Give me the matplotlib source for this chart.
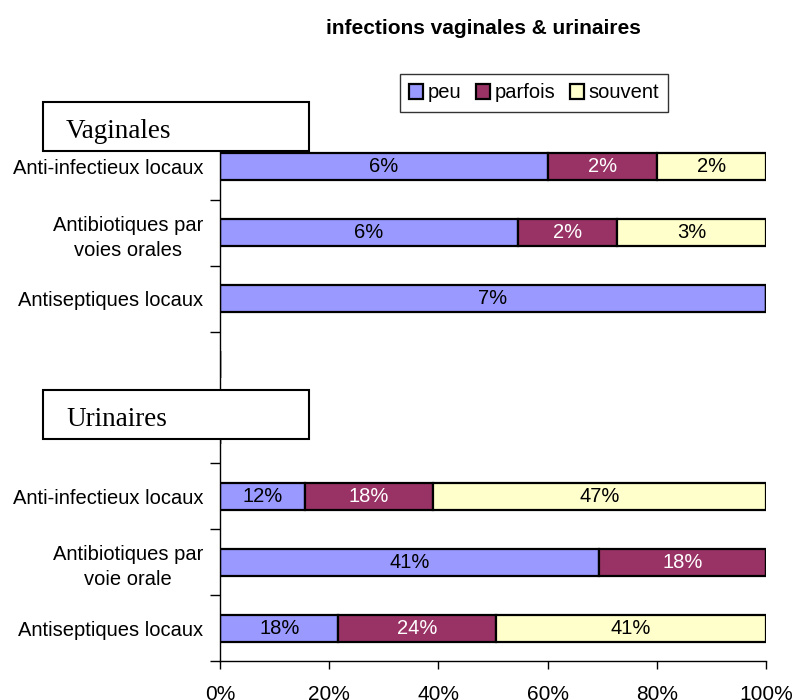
import matplotlib
matplotlib.use("Agg")
import matplotlib.pyplot as plt
import numpy as np
from matplotlib.patches import Rectangle

plt.rcParams['font.family'] = ['Liberation Sans', 'DejaVu Sans']

title = "infections vaginales & urinaires"
categories = ["Anti-infectieux locaux", "Antibiotiques par\nvoies orales", "Antiseptiques locaux",
              "", "",
              "Anti-infectieux locaux", "Antibiotiques par\nvoie orale", "Antiseptiques locaux"]
series_names = ["peu", "parfois", "souvent"]
peu = [6, 6, 7, 0, 0, 12, 41, 18]
parfois = [2, 2, 0, 0, 0, 18, 18, 24]
souvent = [2, 3, 0, 0, 0, 47, 0, 41]
group_labels = ["Vaginales", "Urinaires"]
xtick_labels = ["0%", "20%", "40%", "60%", "80%", "100%"]

colors = ["#9999FF", "#993366", "#FFFFCC"]
text_colors = ["black", "white", "black"]

fig = plt.figure(figsize=(7.94, 7.0), dpi=100)
ax = fig.add_axes([220/794, 39/700, 546/794, 527/700])

data = np.array([peu, parfois, souvent], dtype=float)
totals = data.sum(axis=0)
n = len(categories)
ypos = np.arange(n)
left = np.zeros(n)
for i, name in enumerate(series_names):
    frac = np.divide(data[i], totals, out=np.zeros(n), where=totals > 0)
    ax.barh(ypos, frac, left=left, height=0.41, color=colors[i],
            edgecolor="black", linewidth=1.6, label=name)
    for j in range(n):
        if data[i][j] > 0:
            ax.text(left[j] + frac[j] / 2, ypos[j], f"{int(data[i][j])}%",
                    ha="center", va="center", fontsize=14.5, color=text_colors[i])
    left = left + frac

ax.set_xlim(0, 1)
ax.set_ylim(n - 0.5, -0.5)
ax.set_xticks(np.linspace(0, 1, 6))
ax.set_xticklabels(xtick_labels, fontsize=15)
ax.set_yticks(ypos)
ax.set_yticklabels(categories, fontsize=14.5, multialignment="center", linespacing=1.4)
ax.set_yticks(np.arange(n + 1) - 0.5, minor=True)
ax.tick_params(axis="y", which="major", length=0, pad=12)
ax.tick_params(axis="y", which="minor", length=7, direction="out", width=1)
ax.tick_params(axis="x", length=6, direction="out", width=1, pad=11)
for s in ["top", "right"]:
    ax.spines[s].set_visible(False)
for s in ["left", "bottom"]:
    ax.spines[s].set_linewidth(1)

fig.text(483/794, 1 - 28/700, title, ha="center", va="center",
         fontsize=15, fontweight="bold")

leg = fig.legend(loc="center", bbox_to_anchor=(534/794, 1 - 93/700), ncol=3,
                 fontsize=14.5, frameon=True, fancybox=False, edgecolor="black",
                 handlelength=0.7, handleheight=0.7, handletextpad=0.25,
                 columnspacing=0.7, borderpad=0.45, borderaxespad=0)
leg.get_frame().set_linewidth(1)

# group header boxes
for lbl, (y0, y1) in zip(group_labels, [(102, 151), (390, 439)]):
    rect = Rectangle((43/794, 1 - y1/700), (309 - 43)/794, (y1 - y0)/700,
                     transform=fig.transFigure, facecolor="white",
                     edgecolor="black", linewidth=1.5, zorder=5)
    fig.patches.append(rect)
    fig.text(66/794, 1 - ((y0 + y1) / 2 + 5)/700, lbl, ha="left", va="center",
             fontsize=19.5, family="Liberation Serif", zorder=6)

fig.savefig("out.png", dpi=100)
